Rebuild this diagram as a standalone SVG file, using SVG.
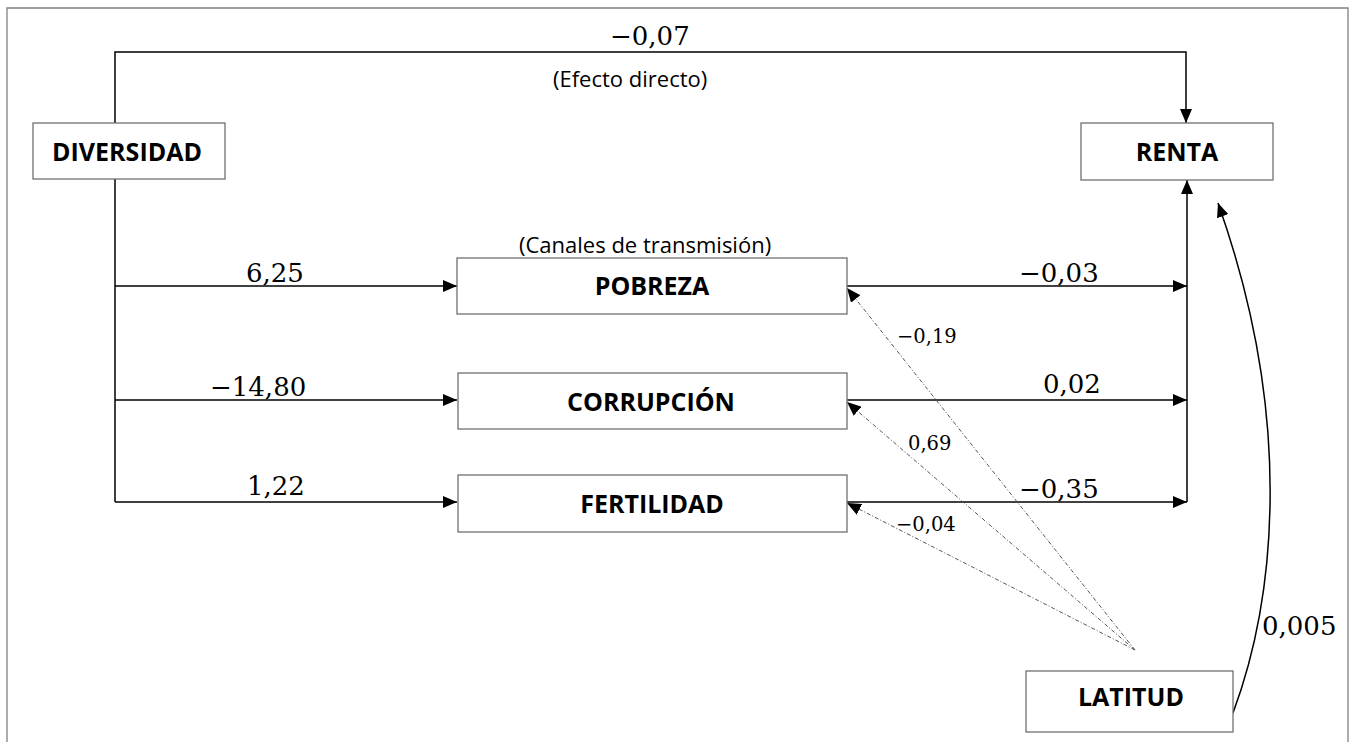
<svg xmlns="http://www.w3.org/2000/svg" width="1356" height="742" viewBox="0 0 1356 742">
<style>
.box{fill:#fff;stroke:#707070;stroke-width:1.3}
.lbl{font-family:"Open Sans","Liberation Sans",sans-serif;font-weight:bold;font-size:25px;fill:#000;text-anchor:middle}
.num{font-family:"DejaVu Serif","Liberation Serif",serif;font-size:26px;fill:#000}
.sm{font-family:"DejaVu Serif","Liberation Serif",serif;font-size:19.5px;fill:#000}
.note{font-family:"Open Sans","Liberation Sans",sans-serif;fill:#000}
.ln{fill:none;stroke:#000;stroke-width:1.5}
.dot{fill:none;stroke:#555;stroke-width:1;stroke-dasharray:4 2 1 2}
</style>
<defs>
<marker id="ah" viewBox="0 0 14 12" refX="14" refY="6" markerWidth="14" markerHeight="12" markerUnits="userSpaceOnUse" orient="auto">
<path d="M0,0 L14,6 L0,12 Z" fill="#000"/>
</marker>
</defs>
<rect x="0" y="0" width="1356" height="742" fill="#fff"/>
<path d="M7,750 V8 H1348 V750" fill="none" stroke="#808080" stroke-width="1.3"/>

<g id="connectors">
<path class="ln" d="M115,123 V52 H1186 V123" stroke-width="2" marker-end="url(#ah)"/>
<path class="ln" d="M115,179 V502"/>
<path class="ln" d="M115,286 H457" marker-end="url(#ah)"/>
<path class="ln" d="M115,400 H457" marker-end="url(#ah)"/>
<path class="ln" d="M115,502 H457" marker-end="url(#ah)"/>
<path class="ln" d="M847,286 H1187" marker-end="url(#ah)"/>
<path class="ln" d="M847,400 H1187" marker-end="url(#ah)"/>
<path class="ln" d="M847,502 H1187" marker-end="url(#ah)"/>
<path class="ln" d="M1187,502 V180" marker-end="url(#ah)"/>
<path class="dot" d="M1135,650 L847,288" marker-end="url(#ah)"/>
<path class="dot" d="M1135,650 L847,402" marker-end="url(#ah)"/>
<path class="dot" d="M1135,650 L847,503" marker-end="url(#ah)"/>
<path class="ln" d="M1233,713 C1275,600 1295,420 1218,203" marker-end="url(#ah)"/>
<text class="num" x="610" y="45">−0,07</text>
<text class="note" x="553" y="87" font-size="22">(Efecto directo)</text>
<text class="note" x="519" y="253" font-size="22">(Canales de transmisión)</text>
<text class="num" x="246" y="282">6,25</text>
<text class="num" x="210" y="396">−14,80</text>
<text class="num" x="247" y="495">1,22</text>
<text class="num" x="1019" y="282">−0,03</text>
<text class="num" x="1043" y="393">0,02</text>
<text class="num" x="1019" y="498">−0,35</text>
<text class="sm" x="897" y="343">−0,19</text>
<text class="sm" x="908" y="450">0,69</text>
<text class="sm" x="896" y="531">−0,04</text>
<text class="num" x="1262" y="635">0,005</text>
</g>

<g id="diversidad"><rect class="box" x="33" y="123" width="192" height="56"/><text class="lbl" x="127" y="161">DIVERSIDAD</text></g>
<g id="renta"><rect class="box" x="1081" y="123" width="192" height="57"/><text class="lbl" x="1177" y="161">RENTA</text></g>
<g id="pobreza"><rect class="box" x="457" y="258" width="390" height="56"/><text class="lbl" x="652" y="295">POBREZA</text></g>
<g id="corrupcion"><rect class="box" x="458" y="373" width="389" height="56"/><text class="lbl" x="651" y="411">CORRUPCIÓN</text></g>
<g id="fertilidad"><rect class="box" x="458" y="475" width="389" height="57"/><text class="lbl" x="652" y="513">FERTILIDAD</text></g>
<g id="latitud"><rect class="box" x="1026" y="671" width="207" height="61"/><text class="lbl" x="1131" y="706">LATITUD</text></g>
</svg>
